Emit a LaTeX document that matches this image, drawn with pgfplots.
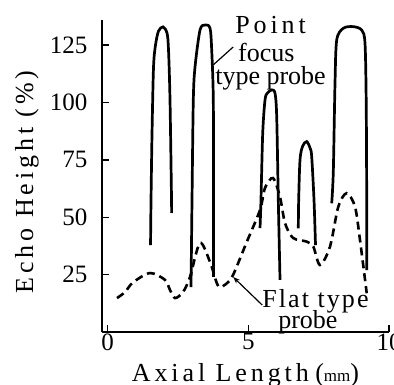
\documentclass[border=0pt]{standalone}
\usepackage{fontspec}
\setmainfont{Liberation Serif}
\newfontfamily\spaced[LetterSpace=15]{Liberation Serif}
\newfontfamily\spacedb[LetterSpace=8]{Liberation Serif}
\usepackage{pgfplots}
\pgfplotsset{compat=1.18}
\usetikzlibrary{arrows.meta}
\begin{document}
\begin{tikzpicture}
\begin{axis}[
  at={(102pt,53pt)}, anchor=south west,
  scale only axis, width=287pt, height=312pt,
  xmin=-0.2, xmax=10, ymin=0, ymax=136,
  axis lines*=left,
  axis line style={line width=1.8pt},
  xtick={0,5,10}, ytick={25,50,75,100,125},
  tick align=inside, major tick length=7pt,
  tick style={line width=1.5pt, black},
  /pgf/number format/assume math mode=true,
  ticklabel style={font=\fontsize{25}{25}\selectfont},
  xticklabel style={yshift=2pt},
  yticklabel style={xshift=-11pt},
  clip=false,
  xlabel={{\spaced Axial Length} {\fontsize{26}{26}\selectfont(}{\fontsize{17}{17}\selectfont mm}{\fontsize{26}{26}\selectfont)}},
  xlabel style={at={(axis description cs:0.5,0)}, anchor=base, yshift=-50pt, font=\fontsize{26}{26}\selectfont},
]
% Point focus type probe: peaks
\addplot[black, line width=2.7pt, smooth, tension=0.5] coordinates {
 (1.525,37.9) (1.542,57.5) (1.578,86.7) (1.631,115.5) (1.702,125.1) (1.809,131.2) (1.969,133.0) (2.111,130.3) (2.164,122.9) (2.217,101.1) (2.271,57.5) (2.271,51.9)};
\addplot[black, line width=2.7pt, smooth, tension=0.5] coordinates {
 (2.964,19.6) (2.999,57.5) (3.045,101.1) (3.106,115.5) (3.283,131.6) (3.461,133.8) (3.638,132.5) (3.699,122.9) (3.756,101.1) (3.763,57.5) (3.763,24.0)};
\addplot[black, line width=2.7pt, smooth, tension=0.5] coordinates {
 (5.416,45.3) (5.450,57.5) (5.512,86.7) (5.593,101.1) (5.675,104.1) (5.832,105.5) (5.949,104.1) (6.009,93.9) (6.066,57.5) (6.127,22.7)};
\addplot[black, line width=2.7pt, smooth, tension=0.5] coordinates {
 (6.777,45.2) (6.790,57.5) (6.837,75.0) (6.930,81.0) (7.075,83.0) (7.200,80.0) (7.253,76.4) (7.335,57.5) (7.388,37.9)};
\addplot[black, line width=2.7pt, smooth, tension=0.5] coordinates {
 (7.964,56.1) (8.021,70.0) (8.081,108.4) (8.142,127.3) (8.376,132.4) (8.731,133.1) (9.030,131.6) (9.147,125.9) (9.190,100.0) (9.208,57.5) (9.208,27.0)};
% Flat type probe
\addplot[black, line width=2.6pt, dash pattern=on 8pt off 5pt, smooth, tension=0.5] coordinates {
 (0.334,14.8) (0.618,17.4) (0.902,21.6) (1.507,25.7) (2.040,22.7) (2.217,18.3) (2.395,14.8) (2.679,17.4) (2.928,24.0) (3.283,38.8) (3.639,30.5) (3.877,21.4) (3.994,19.6) (4.208,20.9) (4.456,24.8) (4.936,39.0) (5.416,53.2) (5.593,62.8) (5.878,67.1) (6.127,58.8) (6.304,47.5) (6.589,41.0) (7.075,39.4) (7.310,37.2) (7.548,29.2) (7.903,37.2) (8.198,54.6) (8.497,60.5) (8.792,54.6) (8.969,40.1) (9.208,16.9)};
% annotations
\node[anchor=base west, inner sep=0pt, font=\fontsize{26}{26}\selectfont] at (axis cs:4.53,130.3) {\spaced Point};
\node[anchor=base west, inner sep=0pt, font=\fontsize{26}{26}\selectfont] at (axis cs:4.63,117.7) {focus};
\node[anchor=base west, inner sep=0pt, font=\fontsize{26}{26}\selectfont] at (axis cs:3.82,107.7) {type probe};
\draw[line width=1.2pt] (axis cs:4.46,124.2) -- (axis cs:3.75,116.4);
\node[anchor=base west, inner sep=0pt, font=\fontsize{26}{26}\selectfont] at (axis cs:5.49,10.5) {\spacedb Flat type};
\node[anchor=base west, inner sep=0pt, font=\fontsize{26}{26}\selectfont] at (axis cs:6.06,1.7) {probe};
\draw[line width=1.2pt, -{Stealth[length=7pt,width=5pt]}] (axis cs:5.49,11.8) -- (axis cs:4.46,24);
\end{axis}
\node[rotate=90, anchor=base, inner sep=0pt, font=\fontsize{26}{26}\selectfont] at (33pt,203pt) {\spaced Echo Height (\%)};
\pgfresetboundingbox
\useasboundingbox (0,0) rectangle (394pt,385pt);
\end{tikzpicture}
\end{document}
